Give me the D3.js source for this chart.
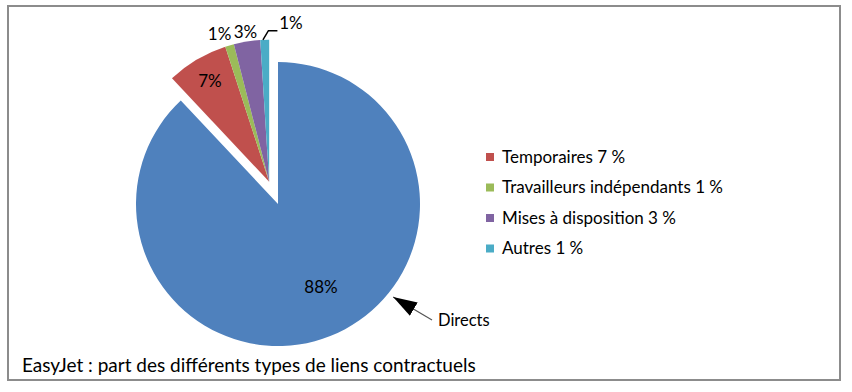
<!DOCTYPE html>
<html>
<head>
<meta charset="utf-8">
<script src="https://cdn.jsdelivr.net/npm/d3@7"></script>
<style>
  body { margin: 0; background: #fff; }
  text { font-family: Lato, "Open Sans", sans-serif; fill: #000; }
</style>
</head>
<body>
<div id="chart"></div>
<script>
// data
const categories = ["Directs", "Temporaires", "Travailleurs indépendants", "Mises à disposition", "Autres"];
const values = [88, 7, 1, 3, 1];
const sliceLabels = ["88%", "7%", "1%", "3%", "1%"];
const legendLabels = ["Temporaires 7 %", "Travailleurs indépendants 1 %", "Mises à disposition 3 %", "Autres 1 %"];
const colors = ["#4F81BD", "#C0504D", "#9BBB59", "#8064A2", "#4BACC6"];
const title = "EasyJet : part des différents types de liens contractuels";

const width = 852, height = 392;
const radius = 142;
const cx = 278, cy = 204;
const explode = 24;

const svg = d3.select("#chart")
  .append("svg")
    .attr("width", width)
    .attr("height", height);

// frame
svg.append("rect")
  .attr("x", 8).attr("y", 6)
  .attr("width", 832).attr("height", 374)
  .attr("fill", "#fff")
  .attr("stroke", "#8c8c8c")
  .attr("stroke-width", 2);

const pie = d3.pie().sort(null).value(function(d) { return d; });
const arcs = pie(values);

const arcGen = d3.arc().innerRadius(0).outerRadius(radius);

// all small slices are pulled out together along their common bisector
const groupStart = arcs[1].startAngle, groupEnd = arcs[arcs.length - 1].endAngle;
const groupMid = (groupStart + groupEnd) / 2;
const off = [Math.sin(groupMid) * explode, -Math.cos(groupMid) * explode];

function shift(i) { return i === 0 ? [0, 0] : off; }

const g = svg.append("g")
  .attr("transform", "translate(" + cx + "," + cy + ")");

g.selectAll("path.slice")
  .data(arcs)
  .enter()
  .append("path")
    .attr("class", "slice")
    .attr("d", arcGen)
    .attr("transform", function(d, i) { return "translate(" + shift(i) + ")"; })
    .attr("fill", function(d, i) { return colors[i]; });

// slice labels
function polar(a, r) { return [Math.sin(a) * r, -Math.cos(a) * r]; }
const labelPos = [
  function(d) { return polar((d.startAngle + d.endAngle) / 2 - 0.1, radius * 0.66); },
  function(d) { return polar((d.startAngle + d.endAngle) / 2, radius * 0.82); },
  function(d) { return polar((d.startAngle + d.endAngle) / 2 - 0.04, radius * 1.1); },
  function(d) { return polar((d.startAngle + d.endAngle) / 2, radius * 1.07); },
  function(d) { return polar(d.endAngle, radius * 1.12); }
];

g.selectAll("text.lbl")
  .data(arcs)
  .enter()
  .append("text")
    .attr("class", "lbl")
    .attr("transform", function(d, i) {
      const p = labelPos[i](d), s = shift(i);
      return "translate(" + (p[0] + s[0]) + "," + (p[1] + s[1]) + ")";
    })
    .attr("text-anchor", function(d, i) { return i === 4 ? "start" : "middle"; })
    .attr("dx", function(d, i) { return i === 4 ? 10 : 0; })
    .attr("dy", "0.35em")
    .style("font-size", "17px")
    .text(function(d, i) { return sliceLabels[i]; });

// leader line for the last slice
const last = arcs[4];
const lp0 = polar(last.startAngle + (last.endAngle - last.startAngle) * 0.3, radius);
const lp1 = polar(last.endAngle - 0.005, radius + 9);
g.append("path")
  .attr("transform", "translate(" + off + ")")
  .attr("d", "M" + lp0 + "L" + lp1 + "H" + (lp1[0] + 9))
  .attr("fill", "none")
  .attr("stroke", "#000")
  .attr("stroke-width", 1.5);

// "Directs" callout arrow
const directsTip = polar(2.25, radius + 6);
svg.append("defs").append("marker")
    .attr("id", "head")
    .attr("viewBox", "0 0 10 10")
    .attr("refX", 10).attr("refY", 5)
    .attr("markerWidth", 24).attr("markerHeight", 24)
    .attr("markerUnits", "userSpaceOnUse")
    .attr("orient", "auto")
  .append("path")
    .attr("d", "M0,1.8L10,5L0,8.2Z")
    .attr("fill", "#000");

svg.append("line")
  .attr("x1", 432).attr("y1", 320)
  .attr("x2", cx + directsTip[0]).attr("y2", cy + directsTip[1])
  .attr("stroke", "#555")
  .attr("stroke-width", 1.2)
  .attr("marker-end", "url(#head)");

svg.append("text")
  .attr("x", 438).attr("y", 326)
  .style("font-size", "16.5px")
  .text(categories[0]);

// legend
const legend = svg.append("g")
  .attr("transform", "translate(486,157)");

const rows = legend.selectAll("g")
  .data(legendLabels)
  .enter()
  .append("g")
    .attr("transform", function(d, i) { return "translate(0," + i * 30.5 + ")"; });

rows.append("rect")
  .attr("x", 0).attr("y", -4)
  .attr("width", 8).attr("height", 8)
  .attr("fill", function(d, i) { return colors[i + 1]; });

rows.append("text")
  .attr("x", 16)
  .attr("dy", "0.35em")
  .style("font-size", "17px")
  .text(function(d) { return d; });

// title
svg.append("text")
  .attr("x", 22).attr("y", 372)
  .style("font-size", "19px")
  .text(title);
</script>
</body>
</html>
